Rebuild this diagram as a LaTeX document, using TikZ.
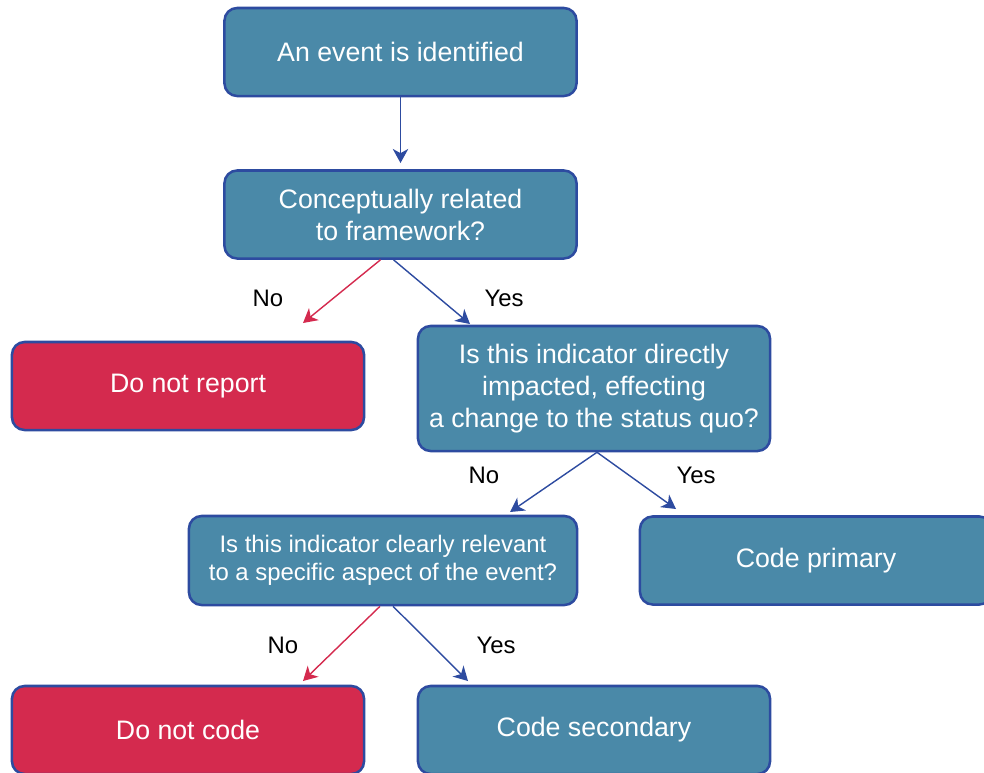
\documentclass[tikz,border=0pt]{standalone}
\usepackage{fontspec}
\setmainfont{Liberation Sans}
\usetikzlibrary{arrows.meta}
\usetikzlibrary{calc}
\definecolor{boxfill}{HTML}{4A89A8}
\definecolor{boxline}{HTML}{2D4BA0}
\definecolor{stopfill}{HTML}{D42A4E}
\tikzset{% 
    box/.style={draw=boxline,line width=1.8pt,rounded corners=9pt,fill=boxfill,
        text=white,align=center,font=\fontsize{19}{22.7}\selectfont,
        minimum width=8.8cm,minimum height=2.2cm,inner sep=0pt},
    stopbox/.style={box,fill=stopfill},
    lbl/.style={font=\fontsize{17}{20}\selectfont,inner sep=0pt},
    yesline/.style={draw=boxline,line width=1pt,-{Stealth[length=10pt,width=11pt,inset=3pt]}},
    noline/.style={draw=stopfill,line width=1pt,-{Stealth[length=10pt,width=11pt,inset=3pt]}}
}

\begin{document}
\begin{tikzpicture}[x=0.025cm,y=-0.025cm]
        \useasboundingbox (0,0) rectangle (984,772);

        \node[box] (event) at (400.5,52) {An event is identified};
        \node[box] (related) at (400.5,214.5) {Conceptually related\\to framework?};
        \node[stopbox] (noreport) at (188,386) {Do not report};
        \node[box,minimum height=3.125cm] (impacted) at (594,388.5)
            {Is this indicator directly\\impacted, effecting\\a change to the status quo?};
        \node[box,minimum width=9.7cm,minimum height=2.225cm,
            font=\fontsize{17}{19.8}\selectfont] (relevant) at (383,560.5)
            {Is this indicator clearly relevant\\to a specific aspect of the event?};
        \node[box] (primary) at (816,560.5) {Code primary};
        \node[stopbox] (nocode) at (188,730) {Do not code};
        \node[box] (secondary) at (594,730) {Code secondary};

        \coordinate (noreport-in) at (303,323);
        \coordinate (impacted-in) at (470,324);
        \coordinate (relevant-in) at (510,512);
        \coordinate (primary-in) at (676,509);
        \coordinate (nocode-in) at (303,681);
        \coordinate (secondary-in) at (468,681);
        \coordinate (related-in) at (400.5,163);

        \draw[yesline] (event) -- (related-in);

        \draw[noline] ($(related.south)+(-20,0)$) -- (noreport-in);
        \draw[yesline] ($(related.south)+(-7,0)$) -- (impacted-in);

        \draw[yesline] ($(impacted.south)+(3,0)$) -- (relevant-in);
        \draw[yesline] ($(impacted.south)+(3,0)$) -- (primary-in);

        \draw[noline] ($(relevant.south)+(-3,0)$) -- (nocode-in);
        \draw[yesline] ($(relevant.south)+(10,0)$) -- (secondary-in);

        \node[lbl] (l-no1) at (268,298) {No};
        \node[lbl] (l-yes1) at (504,298) {Yes};
        \node[lbl] (l-no2) at (484,475) {No};
        \node[lbl] (l-yes2) at (696,475) {Yes};
        \node[lbl] (l-no3) at (283,645) {No};
        \node[lbl] (l-yes3) at (496,645) {Yes};
    \end{tikzpicture}
\end{document}
